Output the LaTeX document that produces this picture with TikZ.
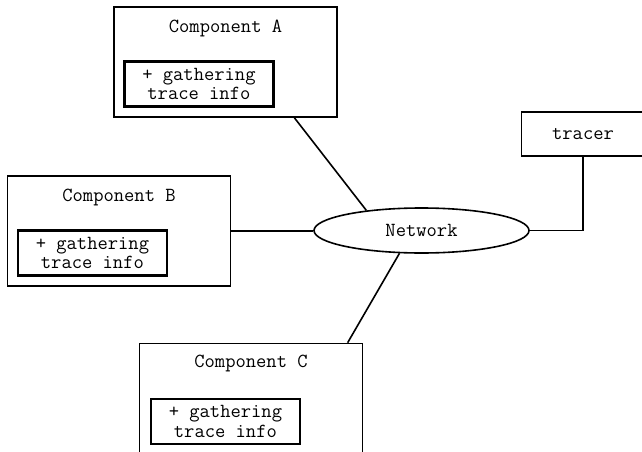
\documentclass[tikz,border=0pt]{standalone}
\usepackage{fontspec}
\usetikzlibrary{shapes.geometric, positioning}

\begin{document}
\begin{tikzpicture}[x=1pt, y=-1pt,
    txt/.style={font=\ttfamily\fontsize{20}{19.5}\selectfont},
    comp/.style={draw, line width=1.6pt, minimum width=223pt, minimum height=110pt, inner sep=0pt},
    info/.style={txt, draw, line width=2.4pt, minimum width=149pt, minimum height=45pt,
        inner sep=0pt, align=center, anchor=north west},
    link/.style={line width=1.6pt}]
    \useasboundingbox (0,0) rectangle (642,452);
    \clip (0,0) rectangle (642,452);

    % the three components
    \node[comp] (compA) at (225.5,62) {};
    \node[txt] (titleA) at ([yshift=-22pt]compA.north) {Component A};
    \node[info] (infoA) at ([shift={(10,54)}]compA.north west) {+ gathering\\trace info};

    \node[comp] (compB) at (119,231) {};
    \node[txt] (titleB) at ([yshift=-22pt]compB.north) {Component B};
    \node[info] (infoB) at ([shift={(10,54)}]compB.north west) {+ gathering\\trace info};

    \node[comp] (compC) at (251,398.5) {};
    \node[txt] (titleC) at ([yshift=-21pt]compC.north) {Component C};
    \node[info] (infoC) at ([shift={(11,55)}]compC.north west) {+ gathering\\trace info};

    % network and tracer
    \node[txt, draw, ellipse, line width=1.6pt, minimum width=215pt, minimum height=45pt, inner sep=0pt]
        (net) at (421.5,230.5) {Network};
    \node[txt, draw, line width=1.6pt, minimum width=123pt, minimum height=44pt, inner sep=0pt]
        (tracer) at (583,134) {tracer};

    \draw[link] (compA.-39.6) -- (net.160);
    \draw[link] (compB.east) -- (compB.east -| net.west);
    \draw[link] (compC.30) -- (net.226);
    \draw[link] (net.east) -| (tracer.south);
\end{tikzpicture}
\end{document}
